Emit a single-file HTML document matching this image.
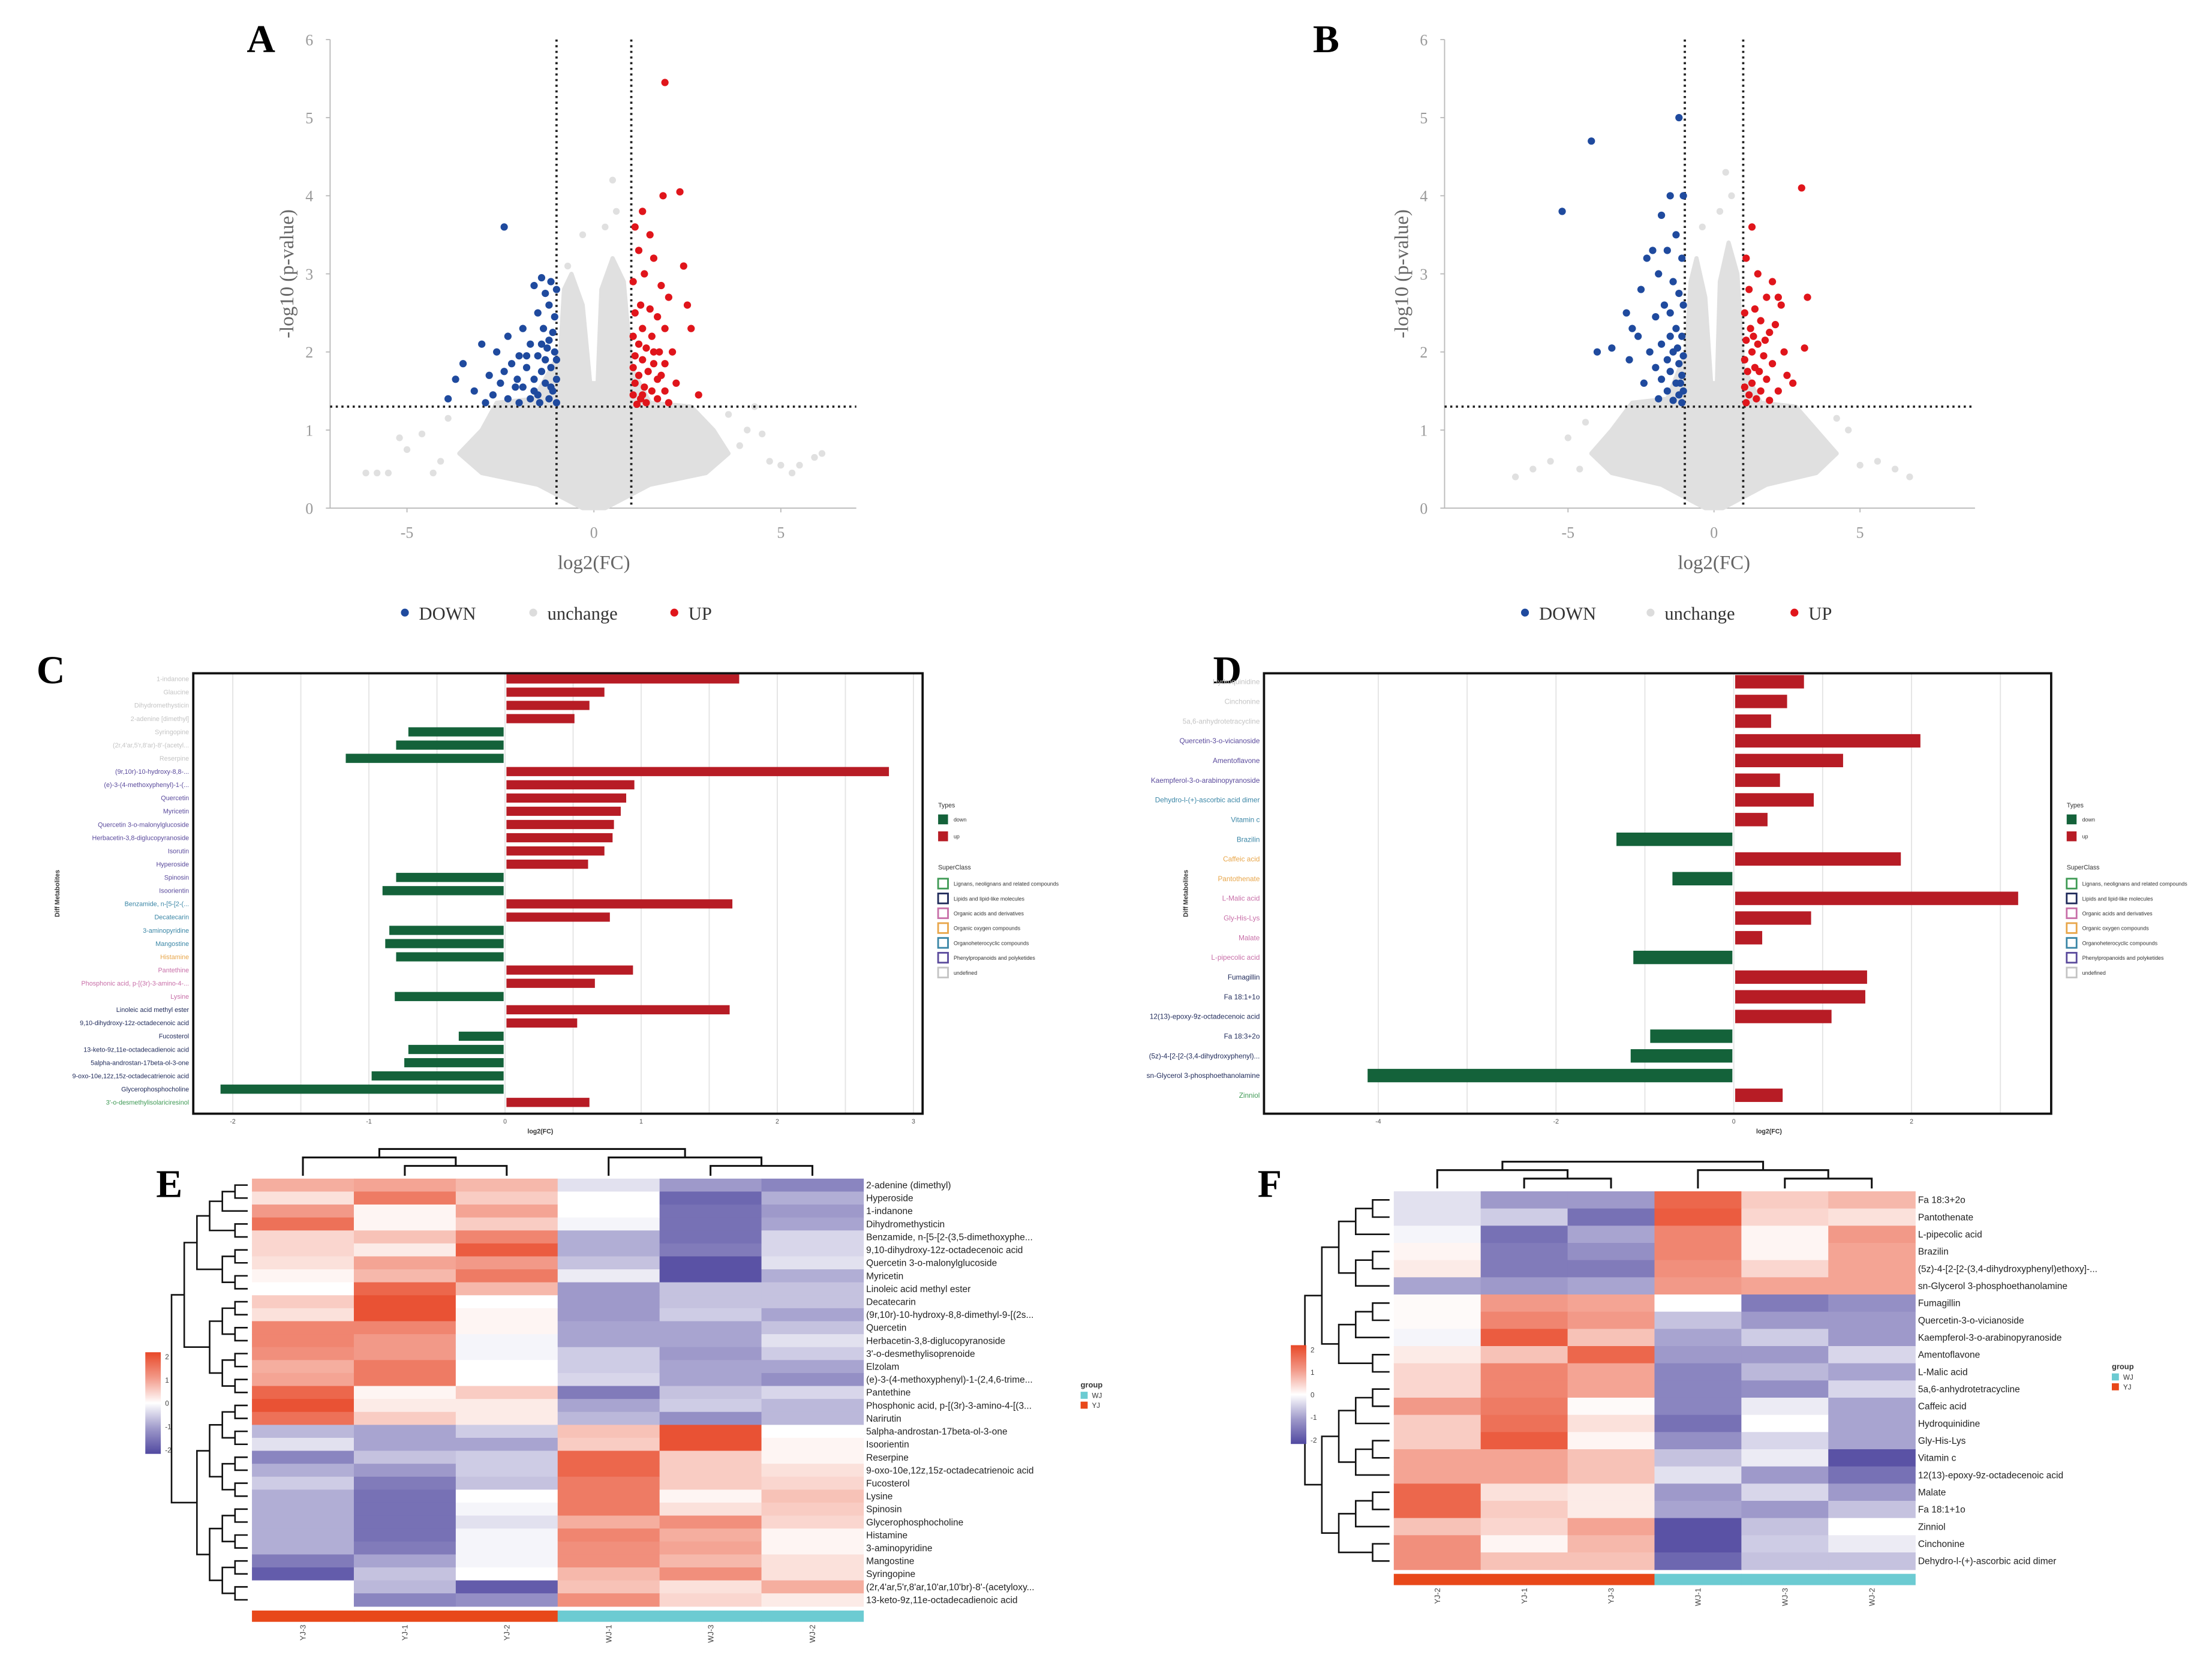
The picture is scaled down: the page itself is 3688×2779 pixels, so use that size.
<!DOCTYPE html>
<html><head><meta charset="utf-8"><title>Metabolomics figure</title>
<style>html,body{margin:0;padding:0;background:#fff}svg{display:block}</style></head>
<body>
<svg id="fig" xmlns="http://www.w3.org/2000/svg" width="3688" height="2779" viewBox="0 0 1568 1181" preserveAspectRatio="none" font-family="Liberation Sans, sans-serif">
<rect x="0" y="0" width="1568" height="1181" fill="#fff"/>
<text x="185" y="37" font-family="Liberation Serif, serif" font-weight="bold" font-size="28" text-anchor="middle">A</text>
<text x="940" y="37" font-family="Liberation Serif, serif" font-weight="bold" font-size="28" text-anchor="middle">B</text>
<text x="36" y="484" font-family="Liberation Serif, serif" font-weight="bold" font-size="28" text-anchor="middle">C</text>
<text x="870" y="484" font-family="Liberation Serif, serif" font-weight="bold" font-size="28" text-anchor="middle">D</text>
<text x="120" y="848" font-family="Liberation Serif, serif" font-weight="bold" font-size="28" text-anchor="middle">E</text>
<text x="900" y="848" font-family="Liberation Serif, serif" font-weight="bold" font-size="28" text-anchor="middle">F</text>
</svg>
<script>
// ---------------- DATA ----------------
const volcanoYTicks = [0,1,2,3,4,5,6];
const volcanoXTicks = [-5,0,5];
const cloudA = [[-0.3,0.0],[-1.5,0.3],[-3.0,0.45],[-3.6,0.7],[-3.0,1.0],[-2.6,1.35],[-1.6,1.4],[-0.9,2.0],[-0.8,2.8],[-0.6,3.0],[-0.3,2.6],[-0.1,1.6],[0.1,1.6],[0.2,2.8],[0.5,3.2],[0.8,2.9],[1.0,1.8],[1.5,1.35],[2.6,1.3],[3.2,1.0],[3.6,0.7],[3.0,0.45],[1.5,0.3],[0.3,0.0]];
const cloudB = [[-0.3,0.0],[-1.8,0.3],[-3.5,0.45],[-4.2,0.7],[-3.5,1.0],[-2.8,1.35],[-1.6,1.4],[-0.95,2.0],[-0.8,2.9],[-0.6,3.2],[-0.3,2.7],[-0.1,1.6],[0.1,1.6],[0.2,2.9],[0.5,3.4],[0.8,3.0],[1.0,1.8],[1.6,1.35],[2.8,1.3],[3.5,1.0],[4.2,0.7],[3.5,0.45],[1.8,0.3],[0.3,0.0]];
const grayA = [[-6.1,0.45],[-5.8,0.45],[-5.5,0.45],[-5.0,0.75],[-4.6,0.95],[-4.3,0.45],[-3.9,1.15],[-4.1,0.6],[-5.2,0.9],[4.5,0.95],[4.1,1.0],[3.9,0.8],[5.0,0.55],[5.5,0.55],[5.9,0.65],[6.1,0.7],[5.3,0.45],[4.7,0.6],[0.5,4.2],[0.6,3.8],[-0.3,3.5],[0.3,3.6],[-0.7,3.1],[4.3,1.3],[3.6,1.2]];
const grayB = [[-6.8,0.4],[-6.2,0.5],[-5.6,0.6],[-5.0,0.9],[-4.6,0.5],[-4.4,1.1],[5.0,0.55],[5.6,0.6],[6.2,0.5],[6.7,0.4],[4.6,1.0],[4.2,1.15],[0.4,4.3],[0.6,4.0],[-0.4,3.6],[0.2,3.8]];
const downA = [[-2.4,3.6],[-1.4,2.95],[-1.15,2.9],[-1.6,2.85],[-1.3,2.75],[-1.0,2.8],[-1.2,2.6],[-1.5,2.5],[-1.05,2.45],[-1.9,2.3],[-2.3,2.2],[-1.35,2.3],[-1.1,2.25],[-1.7,2.1],[-2.6,2.0],[-3.0,2.1],[-1.25,2.05],[-1.05,2.0],[-1.5,1.95],[-2.0,1.95],[-2.2,1.85],[-1.8,1.8],[-3.5,1.85],[-1.15,1.8],[-1.4,1.75],[-2.8,1.7],[-3.7,1.65],[-1.0,1.65],[-1.6,1.65],[-2.5,1.6],[-1.3,1.6],[-2.1,1.55],[-1.9,1.55],[-3.2,1.5],[-1.1,1.5],[-1.5,1.45],[-2.7,1.45],[-1.7,1.4],[-2.3,1.4],[-1.2,1.4],[-3.9,1.4],[-1.0,1.35],[-1.45,1.35],[-2.0,1.35],[-2.9,1.35],[-1.8,1.95],[-2.4,1.75],[-1.2,2.15],[-1.0,1.9],[-1.6,1.5],[-1.3,1.9],[-2.05,1.65],[-1.15,1.55],[-1.4,2.1]];
const upA = [[1.9,5.45],[2.3,4.05],[1.85,4.0],[1.3,3.8],[1.5,3.5],[1.1,3.6],[2.4,3.1],[1.2,3.3],[1.6,3.2],[1.35,3.0],[1.05,2.9],[1.8,2.85],[2.0,2.7],[2.5,2.6],[1.25,2.6],[1.5,2.55],[1.1,2.5],[1.7,2.45],[2.6,2.3],[1.3,2.3],[1.9,2.3],[1.05,2.2],[1.55,2.2],[1.2,2.1],[1.4,2.05],[1.75,2.0],[2.1,2.0],[1.1,1.95],[1.3,1.9],[1.6,1.85],[1.9,1.85],[1.05,1.8],[1.45,1.75],[1.2,1.7],[1.7,1.65],[2.2,1.6],[1.1,1.6],[1.35,1.55],[1.55,1.5],[1.9,1.5],[2.8,1.45],[1.05,1.45],[1.25,1.4],[1.7,1.4],[1.4,1.35],[2.0,1.35],[1.15,1.33],[1.6,2.0],[1.8,1.7],[1.3,1.45]];
const downB = [[-5.2,3.8],[-4.2,4.7],[-1.2,5.0],[-1.5,4.0],[-1.05,4.0],[-2.1,3.3],[-1.8,3.75],[-1.3,3.5],[-1.6,3.3],[-2.3,3.2],[-1.1,3.2],[-1.9,3.0],[-1.4,2.9],[-2.5,2.8],[-1.2,2.75],[-1.7,2.6],[-1.05,2.6],[-1.5,2.5],[-2.0,2.45],[-3.0,2.5],[-1.3,2.3],[-2.6,2.2],[-1.1,2.2],[-1.8,2.1],[-4.0,2.0],[-3.5,2.05],[-2.2,2.0],[-1.4,2.0],[-1.05,1.95],[-1.6,1.9],[-2.9,1.9],[-1.2,1.85],[-2.0,1.8],[-1.5,1.75],[-1.1,1.7],[-1.8,1.65],[-1.3,1.6],[-2.4,1.6],[-1.05,1.5],[-1.6,1.5],[-1.2,1.45],[-1.9,1.4],[-1.4,1.38],[-1.1,1.35],[-2.8,2.3],[-1.25,2.05],[-1.5,2.2],[-1.15,1.6]];
const upB = [[3.0,4.1],[1.3,3.6],[1.1,3.2],[1.5,3.0],[2.0,2.9],[3.2,2.7],[1.2,2.8],[1.8,2.7],[2.3,2.6],[1.4,2.55],[1.05,2.5],[1.6,2.4],[2.1,2.35],[1.25,2.3],[1.9,2.25],[1.1,2.15],[1.5,2.1],[3.1,2.05],[2.4,2.0],[1.3,2.0],[1.7,1.95],[1.05,1.9],[2.0,1.85],[1.4,1.8],[1.15,1.75],[2.5,1.7],[1.8,1.65],[1.3,1.6],[1.05,1.55],[1.6,1.5],[2.2,1.5],[1.2,1.45],[1.45,1.4],[1.9,1.38],[1.1,1.35],[2.7,1.6],[1.35,2.2],[1.75,2.15],[2.2,2.7],[1.55,1.75]];

const barLabelsC = ["1-indanone","Glaucine","Dihydromethysticin","2-adenine [dimethyl]","Syringopine","(2r,4'ar,5'r,8'ar)-8'-(acetyl...","Reserpine","(9r,10r)-10-hydroxy-8,8-...","(e)-3-(4-methoxyphenyl)-1-(...","Quercetin","Myricetin","Quercetin 3-o-malonylglucoside","Herbacetin-3,8-diglucopyranoside","Isorutin","Hyperoside","Spinosin","Isoorientin","Benzamide, n-[5-[2-(...","Decatecarin","3-aminopyridine","Mangostine","Histamine","Pantethine","Phosphonic acid, p-[(3r)-3-amino-4-...","Lysine","Linoleic acid methyl ester","9,10-dihydroxy-12z-octadecenoic acid","Fucosterol","13-keto-9z,11e-octadecadienoic acid","5alpha-androstan-17beta-ol-3-one","9-oxo-10e,12z,15z-octadecatrienoic acid","Glycerophosphocholine","3'-o-desmethylisolariciresinol"];
const barValuesC = [1.72,0.73,0.62,0.51,-0.71,-0.80,-1.17,2.82,0.95,0.89,0.85,0.80,0.79,0.73,0.61,-0.80,-0.90,1.67,0.77,-0.85,-0.88,-0.80,0.94,0.66,-0.81,1.65,0.53,-0.34,-0.71,-0.74,-0.98,-2.09,0.62];
const barClassC = [6,6,6,6,6,6,6,5,5,5,5,5,5,5,5,5,5,4,4,4,4,3,2,2,2,1,1,1,1,1,1,1,0];
const barTicksC = [-2,-1,0,1,2,3];

const barLabelsD = ["Hydroquinidine","Cinchonine","5a,6-anhydrotetracycline","Quercetin-3-o-vicianoside","Amentoflavone","Kaempferol-3-o-arabinopyranoside","Dehydro-l-(+)-ascorbic acid dimer","Vitamin c","Brazilin","Caffeic acid","Pantothenate","L-Malic acid","Gly-His-Lys","Malate","L-pipecolic acid","Fumagillin","Fa 18:1+1o","12(13)-epoxy-9z-octadecenoic acid","Fa 18:3+2o","(5z)-4-[2-[2-(3,4-dihydroxyphenyl)...","sn-Glycerol 3-phosphoethanolamine","Zinniol"];
const barValuesD = [0.79,0.60,0.42,2.10,1.23,0.52,0.90,0.38,-1.32,1.88,-0.69,3.20,0.87,0.32,-1.13,1.50,1.48,1.10,-0.94,-1.16,-4.12,0.55];
const barClassD = [6,6,6,5,5,5,4,4,4,3,3,2,2,2,2,1,1,1,1,1,1,0];
const barTicksD = [-4,-2,0,2];

const heatColsE = ["YJ-3","YJ-1","YJ-2","WJ-1","WJ-3","WJ-2"];
const heatRowsE = ["2-adenine (dimethyl)","Hyperoside","1-indanone","Dihydromethysticin","Benzamide, n-[5-[2-(3,5-dimethoxyphe...","9,10-dihydroxy-12z-octadecenoic acid","Quercetin 3-o-malonylglucoside","Myricetin","Linoleic acid methyl ester","Decatecarin","(9r,10r)-10-hydroxy-8,8-dimethyl-9-[(2s...","Quercetin","Herbacetin-3,8-diglucopyranoside","3'-o-desmethylisoprenoide","Elzolam","(e)-3-(4-methoxyphenyl)-1-(2,4,6-trime...","Pantethine","Phosphonic acid, p-[(3r)-3-amino-4-[(3...","Narirutin","5alpha-androstan-17beta-ol-3-one","Isoorientin","Reserpine","9-oxo-10e,12z,15z-octadecatrienoic acid","Fucosterol","Lysine","Spinosin","Glycerophosphocholine","Histamine","3-aminopyridine","Mangostine","Syringopine","(2r,4'ar,5'r,8'ar,10'ar,10'br)-8'-(acetyloxy...","13-keto-9z,11e-octadecadienoic acid"];
const heatValsE = [
[0.8,0.9,0.7,-0.3,-1.0,-1.2],[0.3,1.3,0.5,0.0,-1.5,-0.8],[1.0,0.1,0.9,0.0,-1.4,-1.0],[1.4,0.1,0.5,-0.1,-1.4,-0.9],
[0.4,0.6,1.2,-0.8,-1.4,-0.4],[0.4,0.2,1.6,-0.8,-1.3,-0.4],[0.3,0.9,1.0,-0.6,-1.7,-0.3],[0.1,0.7,1.3,-0.2,-1.7,-0.8],
[0.0,1.5,0.7,-1.0,-0.6,-0.6],[0.5,1.7,0.0,-1.0,-0.6,-0.6],[0.3,1.7,0.1,-1.0,-0.5,-0.9],[1.2,1.2,0.1,-0.9,-0.9,-0.6],
[1.2,1.0,-0.1,-0.9,-0.9,-0.3],[1.1,1.0,-0.1,-0.5,-1.0,-0.5],[0.8,1.3,0.0,-0.5,-0.9,-0.9],[0.9,1.3,0.0,-0.4,-0.9,-1.1],
[1.5,0.1,0.5,-1.3,-0.6,-0.4],[1.7,0.2,0.2,-0.9,-0.5,-0.7],[1.4,0.5,0.2,-0.7,-1.1,-0.7],[-0.7,-0.9,-0.5,0.6,1.7,0.0],
[-0.3,-0.9,-0.9,0.5,1.7,0.1],[-1.2,-0.6,-0.5,1.5,0.5,0.1],[-0.8,-1.0,-0.5,1.5,0.5,0.3],[-0.5,-1.3,-0.6,1.3,0.5,0.4],
[-0.8,-1.4,0.0,1.3,0.1,0.6],[-0.8,-1.4,-0.1,1.3,0.3,0.5],[-0.8,-1.4,-0.3,0.8,1.1,0.4],[-0.8,-1.4,-0.1,1.2,0.8,0.1],
[-0.8,-1.3,-0.1,1.1,0.9,0.1],[-1.3,-0.9,-0.1,1.1,0.7,0.3],[-1.6,-0.6,0.0,0.7,1.1,0.3],[0.0,-0.7,-1.6,0.6,0.3,0.8],
[0.0,-1.2,-1.1,1.1,0.4,0.2]];

const heatColsF = ["YJ-2","YJ-1","YJ-3","WJ-1","WJ-3","WJ-2"];
const heatRowsF = ["Fa 18:3+2o","Pantothenate","L-pipecolic acid","Brazilin","(5z)-4-[2-[2-(3,4-dihydroxyphenyl)ethoxy]-...","sn-Glycerol 3-phosphoethanolamine","Fumagillin","Quercetin-3-o-vicianoside","Kaempferol-3-o-arabinopyranoside","Amentoflavone","L-Malic acid","5a,6-anhydrotetracycline","Caffeic acid","Hydroquinidine","Gly-His-Lys","Vitamin c","12(13)-epoxy-9z-octadecenoic acid","Malate","Fa 18:1+1o","Zinniol","Cinchonine","Dehydro-l-(+)-ascorbic acid dimer"];
const heatValsF = [
[-0.3,-1.0,-1.0,1.5,0.5,0.7],[-0.3,-0.5,-1.4,1.6,0.4,0.3],[-0.1,-1.4,-0.9,1.2,0.1,1.0],[0.1,-1.3,-1.1,1.2,0.1,0.9],
[0.2,-1.3,-1.3,1.1,0.4,0.9],[-0.9,-1.0,-0.9,1.0,0.9,0.9],[0.05,1.0,0.9,0.0,-1.3,-1.1],[0.05,1.2,1.0,-0.6,-1.0,-1.0],
[-0.1,1.6,0.6,-0.9,-0.5,-1.0],[0.2,0.6,1.5,-1.0,-1.0,-0.4],[0.4,1.2,0.9,-1.2,-0.7,-0.9],[0.4,1.2,0.9,-1.2,-1.1,-0.4],
[1.0,1.3,0.05,-1.2,-0.2,-0.9],[0.5,1.4,0.3,-1.4,0.0,-0.9],[0.5,1.6,0.1,-1.1,-0.4,-0.9],[0.9,0.9,0.6,-0.6,-0.2,-1.7],
[0.9,0.9,0.6,-0.3,-1.0,-1.4],[1.5,0.3,0.2,-1.0,-0.4,-1.0],[1.5,0.5,0.2,-0.9,-1.0,-0.6],[0.6,0.4,0.9,-1.7,-0.6,0.0],
[1.1,0.1,0.7,-1.7,-0.5,-0.2],[1.1,0.6,0.6,-1.5,-0.6,-0.6]];
const scaleTicks = [2,1,0,-1,-2];

// ---------------- HELPERS ----------------
const NS = 'http://www.w3.org/2000/svg';
const svg = document.getElementById('fig');
function mk(tag, attrs, parent){ const e = document.createElementNS(NS, tag); for (const k in attrs) e.setAttribute(k, attrs[k]); (parent||svg).appendChild(e); return e; }
function tx(str, attrs, parent){ const e = mk('text', attrs, parent); e.textContent = str; return e; }
const classColors = ["#3f9a55","#1f2a5a","#c86fa8","#e8a64a","#3a86a6","#5a4a9c","#c4c4c4"];
const classNames = ["Lignans, neolignans and related compounds","Lipids and lipid-like molecules","Organic acids and derivatives","Organic oxygen compounds","Organoheterocyclic compounds","Phenylpropanoids and polyketides","undefined"];
function heatColor(v){
  const t = Math.min(Math.abs(v)/1.8, 1);
  const c = v >= 0 ? [232,72,40] : [80,72,160];
  const r = Math.round(255 + (c[0]-255)*t), g = Math.round(255 + (c[1]-255)*t), b = Math.round(255 + (c[2]-255)*t);
  return 'rgb(' + r + ',' + g + ',' + b + ')';
}

// ---------------- VOLCANO ----------------
function volcano(cfg, cloud, gray, down, up, key){
  const g = mk('g', {});
  
  
  const sx = v => cfg.x0 + v*cfg.xu;
  const sy = v => 360 - v*55.33;
  const ax = mk('path', {d: 'M' + cfg.left + ',28V360H' + cfg.right, fill: 'none', stroke: '#bbb', 'stroke-width': 0.8}, g);
  
  
  volcanoYTicks.forEach(t => {
    const k = mk('line', {x1: cfg.left - 3, x2: cfg.left, y1: sy(t), y2: sy(t), stroke: '#bbb', 'stroke-width': 0.8}, g);
    
    
  });
  volcanoXTicks.forEach(t => {
    const k = mk('line', {x1: sx(t), x2: sx(t), y1: 360, y2: 363, stroke: '#bbb', 'stroke-width': 0.8}, g);
    
    
  });
  const poly = mk('polygon', {points: cloud.map(p => sx(p[0]) + ',' + sy(p[1])).join(' '), fill: '#e0e0e0', stroke: '#e0e0e0', 'stroke-width': 3, 'stroke-linejoin': 'round'}, g);
  
  
  gray.forEach(p => {
    const c = mk('circle', {cx: sx(p[0]), cy: sy(p[1]), r: 2.4, fill: '#e0e0e0'}, g);
    
    
  });
  volcanoYTicks.forEach(t => {
    const e = tx(String(t), {x: cfg.left - 12, y: sy(t) + 4, 'font-size': 11, fill: '#999', 'text-anchor': 'end', 'font-family': 'Liberation Serif, serif'}, g);
    
    
  });
  volcanoXTicks.forEach(t => {
    const e = tx(String(t), {x: sx(t), y: 381, 'font-size': 11, fill: '#999', 'text-anchor': 'middle', 'font-family': 'Liberation Serif, serif'}, g);
    
    
  });
  [-1, 1].forEach(t => {
    const l = mk('line', {x1: sx(t), x2: sx(t), y1: 28, y2: 360, stroke: '#222', 'stroke-width': 1.6, 'stroke-dasharray': '1.5,2.5'}, g);
    
    
  });
  const h = mk('line', {x1: cfg.left, x2: cfg.right, y1: sy(1.3), y2: sy(1.3), stroke: '#222', 'stroke-width': 1.6, 'stroke-dasharray': '1.5,2.5'}, g);
  
  
  down.forEach(p => {
    const c = mk('circle', {cx: sx(p[0]), cy: sy(p[1]), r: 2.6, fill: '#1f4a9e'}, g);
    
    
  });
  up.forEach(p => {
    const c = mk('circle', {cx: sx(p[0]), cy: sy(p[1]), r: 2.6, fill: '#e0151b'}, g);
    
    
  });
  const xt = tx('log2(FC)', {x: sx(0), y: 403, 'font-size': 14, fill: '#666', 'text-anchor': 'middle', 'font-family': 'Liberation Serif, serif'}, g);
  
  
  const yt = tx('-log10 (p-value)', {x: 0, y: 0, 'font-size': 14, fill: '#666', 'text-anchor': 'middle', 'font-family': 'Liberation Serif, serif', transform: 'translate(' + (cfg.left - 26) + ',194) rotate(-90)'}, g);
  
  
  const leg = [['DOWN', '#1f4a9e', cfg.legX[0]], ['unchange', '#dcdcdc', cfg.legX[1]], ['UP', '#e0151b', cfg.legX[2]]];
  leg.forEach(L => {
    const c = mk('circle', {cx: L[2], cy: 434, r: 2.8, fill: L[1]}, g);
    
    
    const t = tx(L[0], {x: L[2] + 10, y: 439, 'font-size': 13, fill: '#333', 'font-family': 'Liberation Serif, serif'}, g);
    
    
  });
}
volcano({x0: 421, xu: 26.5, left: 234, right: 607, legX: [287, 378, 478]}, cloudA, grayA, downA, upA, 'a');
volcano({x0: 1215, xu: 20.7, left: 1024, right: 1400, legX: [1081, 1170, 1272]}, cloudB, grayB, downB, upB, 'b');

// ---------------- BAR CHARTS ----------------
function bars(cfg, labels, values, classes, ticks, key){
  const g = mk('g', {});
  
  
  const sx = v => cfg.x0 + v*cfg.xu;
  const sy = i => cfg.y0 + i*cfg.step;
  for (let v = cfg.gmin; v <= cfg.gmax + 1e-9; v += cfg.gstep) {
    const l = mk('line', {x1: sx(v), x2: sx(v), y1: cfg.top, y2: cfg.bottom, stroke: '#e4e4e4', 'stroke-width': 0.8}, g);
    
    
  }
  values.forEach((v, i) => {
    const x = v >= 0 ? sx(0) + 1 : sx(v);
    const r = mk('rect', {x: x, y: sy(i) - cfg.bh/2, width: Math.abs(v)*cfg.xu - 1, height: cfg.bh, fill: v >= 0 ? '#b71c25' : '#14623a'}, g);
    
    
    const t = tx(labels[i], {x: cfg.left - 3, y: sy(i) + cfg.fs*0.35, 'font-size': cfg.fs, fill: classColors[classes[i]], 'text-anchor': 'end'}, g);
    
    
  });
  const box = mk('rect', {x: cfg.left, y: cfg.top, width: cfg.right - cfg.left, height: cfg.bottom - cfg.top, fill: 'none', stroke: '#111', 'stroke-width': 1.6}, g);
  
  
  ticks.forEach(t => {
    const e = tx(String(t), {x: sx(t), y: cfg.bottom + 7, 'font-size': 4.5, fill: '#555', 'text-anchor': 'middle'}, g);
    
    
  });
  const xt = tx('log2(FC)', {x: sx(0) + 25, y: cfg.bottom + 14, 'font-size': 4.5, fill: '#333', 'text-anchor': 'middle', 'font-weight': 'bold'}, g);
  
  
  const yt = tx('Diff Metabolites', {x: 0, y: 0, 'font-size': 4.5, fill: '#333', 'text-anchor': 'middle', 'font-weight': 'bold', transform: 'translate(' + cfg.ytx + ',' + ((cfg.top + cfg.bottom)/2) + ') rotate(-90)'}, g);
  
  
  const lx = cfg.right + 11;
  const t1 = tx('Types', {x: lx, y: 572, 'font-size': 4.5, fill: '#333'}, g);
  
  
  [['down', '#14623a', 580], ['up', '#b71c25', 592]].forEach(L => {
    const r = mk('rect', {x: lx, y: L[2] - 3, width: 7, height: 7, fill: L[1]}, g);
    
    
    const t = tx(L[0], {x: lx + 11, y: L[2] + 2, 'font-size': 3.8, fill: '#333'}, g);
    
    
  });
  const t2 = tx('SuperClass', {x: lx, y: 616, 'font-size': 4.5, fill: '#333'}, g);
  
  
  classNames.forEach((n, i) => {
    const y = 626 + i*10.5;
    const r = mk('rect', {x: lx, y: y - 3.5, width: 7, height: 7, fill: '#fff', stroke: classColors[i], 'stroke-width': 1.2}, g);
    
    
    const t = tx(n, {x: lx + 11, y: y + 1.5, 'font-size': 3.8, fill: '#333'}, g);
    
    
  });
}
bars({x0: 358, xu: 96.5, y0: 481, step: 9.375, bh: 6.5, left: 137, right: 654, top: 477, bottom: 789, gmin: -2, gmax: 3, gstep: 0.5, fs: 4.6, ytx: 42}, barLabelsC, barValuesC, barClassC, barTicksC, 'c');
bars({x0: 1229, xu: 63, y0: 483, step: 13.95, bh: 9.5, left: 896, right: 1454, top: 477, bottom: 789, gmin: -4, gmax: 3, gstep: 1, fs: 5, ytx: 842}, barLabelsD, barValuesD, barClassD, barTicksD, 'd');

// ---------------- HEATMAPS ----------------
function dendroRows(g, lo, hi, y0, rh, right, unit){
  function build(a, b){
    if (a === b) return {y: y0 + (a + 0.5)*rh, h: 0};
    const m = Math.floor((a + b)/2);
    const L = build(a, m), R = build(m + 1, b);
    const h = Math.max(L.h, R.h) + 1;
    const x = right - h*unit;
    const p = mk('path', {d: 'M' + (right - L.h*unit) + ',' + L.y + 'H' + x + 'V' + R.y + 'H' + (right - R.h*unit), fill: 'none', stroke: '#111', 'stroke-width': 1.1}, g);
    
    
    return {y: (L.y + R.y)/2, h: h};
  }
  build(lo, hi);
}
function heat(cfg, rows, cols, vals, key){
  const g = mk('g', {});
  
  
  const cw = (cfg.right - cfg.left)/cols.length, rh = (cfg.bottom - cfg.top)/rows.length;
  vals.forEach((row, i) => row.forEach((v, j) => {
    const r = mk('rect', {x: cfg.left + j*cw, y: cfg.top + i*rh, width: cw + 0.3, height: rh + 0.3, fill: heatColor(v)}, g);
    
    
  }));
  rows.forEach((n, i) => {
    const t = tx(n, {x: cfg.right + 2, y: cfg.top + (i + 0.5)*rh + 2.3, 'font-size': cfg.fs, fill: '#222'}, g);
    
    
  });
  cols.forEach((n, j) => {
    const cx = cfg.left + (j + 0.5)*cw;
    const t = tx(n, {x: 0, y: 0, 'font-size': 5.5, fill: '#444', 'text-anchor': 'end', transform: 'translate(' + (cx + 2) + ',' + (cfg.bottom + 13) + ') rotate(-90)'}, g);
    
    
    const gb = mk('rect', {x: cfg.left + j*cw, y: cfg.bottom + 3, width: cw + 0.3, height: 8, fill: j < 3 ? '#e8481a' : '#6ccbd2'}, g);
    
    
  });
  const X = j => cfg.left + (j + 0.5)*cw;
  const ct = cfg.top;
  const dpaths = [
    'M' + X(1) + ',' + (ct - 2) + 'V' + (ct - 9) + 'H' + X(2) + 'V' + (ct - 2),
    'M' + X(0) + ',' + (ct - 2) + 'V' + (ct - 15) + 'H' + ((X(1) + X(2))/2) + 'V' + (ct - 9),
    'M' + X(4) + ',' + (ct - 2) + 'V' + (ct - 9) + 'H' + X(5) + 'V' + (ct - 2),
    'M' + X(3) + ',' + (ct - 2) + 'V' + (ct - 15) + 'H' + ((X(4) + X(5))/2) + 'V' + (ct - 9),
    'M' + ((X(0) + X(1.5))/2) + ',' + (ct - 15) + 'V' + (ct - 21) + 'H' + ((X(3) + X(4.5))/2) + 'V' + (ct - 15)];
  dpaths.forEach(d => {
    const p = mk('path', {d: d, fill: 'none', stroke: '#111', 'stroke-width': 1.3}, g);
    
    
  });
  dendroRows(g, 0, rows.length - 1, cfg.top, rh, cfg.left - 3, cfg.dunit);
  const grad = mk('linearGradient', {id: 'grad' + key, x1: 0, y1: 0, x2: 0, y2: 1}, g);
  [2, 1, 0, -1, -2].forEach((v, i) => mk('stop', {offset: (i*25) + '%', 'stop-color': heatColor(v)}, grad));
  const sb = mk('rect', {x: cfg.sx, y: cfg.sy, width: 11, height: cfg.sh, fill: 'url(#grad' + key + ')'}, g);
  
  
  scaleTicks.forEach((t, i) => {
    const y = cfg.sy + 3 + i*(cfg.sh - 6)/4;
    const e = tx(String(t), {x: cfg.sx + 14, y: y + 2, 'font-size': 5, fill: '#444'}, g);
    
    
  });
  const gt = tx('group', {x: cfg.gx, y: cfg.gy, 'font-size': 5.5, 'font-weight': 'bold', fill: '#333'}, g);
  
  
  [['WJ', '#6ccbd2'], ['YJ', '#e8481a']].forEach((L, i) => {
    const r = mk('rect', {x: cfg.gx, y: cfg.gy + 3 + i*7, width: 5, height: 5, fill: L[1]}, g);
    
    
    const t = tx(L[0], {x: cfg.gx + 8, y: cfg.gy + 7.5 + i*7, 'font-size': 5, fill: '#333'}, g);
    
    
  });
}
heat({left: 178.6, right: 612, top: 835, bottom: 1138, fs: 6.6, dunit: 9, sx: 103, sy: 958, sh: 72, gx: 766, gy: 983}, heatRowsE, heatColsE, heatValsE, 'e');
heat({left: 988, right: 1357.6, top: 844, bottom: 1112, fs: 6.6, dunit: 12, sx: 915, sy: 953, sh: 70, gx: 1497, gy: 970}, heatRowsF, heatColsF, heatValsF, 'f');
</script>
</body></html>
